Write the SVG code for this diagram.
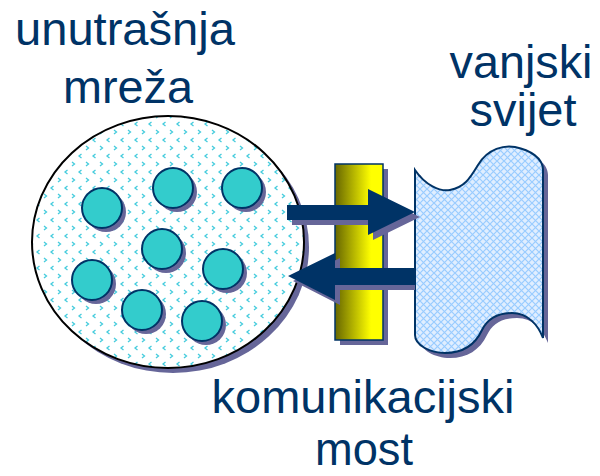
<svg xmlns="http://www.w3.org/2000/svg" width="600" height="476" viewBox="0 0 600 476">
<style>
.lbl{font-family:"Liberation Sans",Arial,sans-serif;font-size:46px;fill:#003366;text-anchor:middle}
.node{fill:#33CCCC;stroke:#003366;stroke-width:2}
.shadow{fill:#666699}
.arrow{fill:#003366}
</style>
<defs>
<pattern id="dots" width="14" height="16" patternUnits="userSpaceOnUse">
<rect width="14" height="16" fill="#ffffff"/>
<path d="M2,2 L4.5,4 L2,6 M11.5,10 L9,12 L11.5,14" fill="none" stroke="#44CCDD" stroke-width="1.3"/>
</pattern>
<pattern id="hatch" width="7" height="7" patternUnits="userSpaceOnUse">
<rect width="7" height="7" fill="#E0EEFF"/>
<path d="M0,0 L7,7 M7,0 L0,7" stroke="#99CCFF" stroke-width="1.2"/>
</pattern>
<linearGradient id="barGrad" x1="0" y1="0" x2="1" y2="0">
<stop offset="0" stop-color="#666600"/>
<stop offset="0.75" stop-color="#FFFF00"/>
<stop offset="1" stop-color="#FFFF00"/>
</linearGradient>
</defs>

<g id="inner-network">
<ellipse class="shadow" cx="173" cy="247" rx="136" ry="126"/>
<ellipse cx="168" cy="242" rx="136" ry="126" fill="url(#dots)" stroke="#000000" stroke-width="2"/>
</g>
<g id="hosts">
<g id="host1"><circle class="shadow" cx="106" cy="212" r="20"/><circle class="node" cx="102" cy="208" r="20"/></g>
<g id="host2"><circle class="shadow" cx="177" cy="192" r="20"/><circle class="node" cx="173" cy="188" r="20"/></g>
<g id="host3"><circle class="shadow" cx="246" cy="192" r="20"/><circle class="node" cx="242" cy="188" r="20"/></g>
<g id="host4"><circle class="shadow" cx="166" cy="253" r="20"/><circle class="node" cx="162" cy="249" r="20"/></g>
<g id="host5"><circle class="shadow" cx="227" cy="273" r="20"/><circle class="node" cx="223" cy="269" r="20"/></g>
<g id="host6"><circle class="shadow" cx="96" cy="284" r="20"/><circle class="node" cx="92" cy="280" r="20"/></g>
<g id="host7"><circle class="shadow" cx="146" cy="314" r="20"/><circle class="node" cx="142" cy="310" r="20"/></g>
<g id="host8"><circle class="shadow" cx="206" cy="325" r="20"/><circle class="node" cx="202" cy="321" r="20"/></g>
</g>

<g id="bridge">
<rect class="shadow" x="340" y="169" width="48" height="176"/>
<rect x="335" y="164" width="48" height="176" fill="url(#barGrad)" stroke="#003366" stroke-width="1.5"/>
</g>

<g id="outside-world">
<path class="shadow" transform="translate(5,5)" d="M415,170 C425,185 440,192 450,190 C465,187 470,178 478,165 C488,148 505,145 515,147 C530,150 543,158 543,170 L543,338 C538,325 528,313 512,313 C495,313 487,320 482,330 C475,345 462,353 445,353 C430,353 415,345 415,335 Z"/>
<path d="M415,170 C425,185 440,192 450,190 C465,187 470,178 478,165 C488,148 505,145 515,147 C530,150 543,158 543,170 L543,338 C538,325 528,313 512,313 C495,313 487,320 482,330 C475,345 462,353 445,353 C430,353 415,345 415,335 Z" fill="url(#hatch)" stroke="#003366" stroke-width="2"/>
</g>

<g id="connectors">
<polygon class="shadow" transform="translate(5,5)" points="287,205 368,205 368,189 415,212 368,235 368,220 287,220"/>
<polygon class="arrow" points="287,205 368,205 368,189 415,212 368,235 368,220 287,220"/>
<polygon class="shadow" transform="translate(5,5)" points="288,276 335,253 335,268 410,268 410,285 335,285 335,300"/>
<polygon class="arrow" points="288,276 335,253 335,268 415,268 415,285 335,285 335,300"/>
</g>

<g id="labels">
<text class="lbl" x="125" y="45" textLength="220" lengthAdjust="spacingAndGlyphs">unutrašnja</text>
<text class="lbl" x="128" y="103" textLength="130" lengthAdjust="spacingAndGlyphs">mreža</text>
<text class="lbl" x="521" y="78" textLength="143" lengthAdjust="spacingAndGlyphs">vanjski</text>
<text class="lbl" x="523" y="126" textLength="107" lengthAdjust="spacingAndGlyphs">svijet</text>
<text class="lbl" x="363" y="413" textLength="303" lengthAdjust="spacingAndGlyphs">komunikacijski</text>
<text class="lbl" x="364" y="465" textLength="98" lengthAdjust="spacingAndGlyphs">most</text>
</g>
</svg>
